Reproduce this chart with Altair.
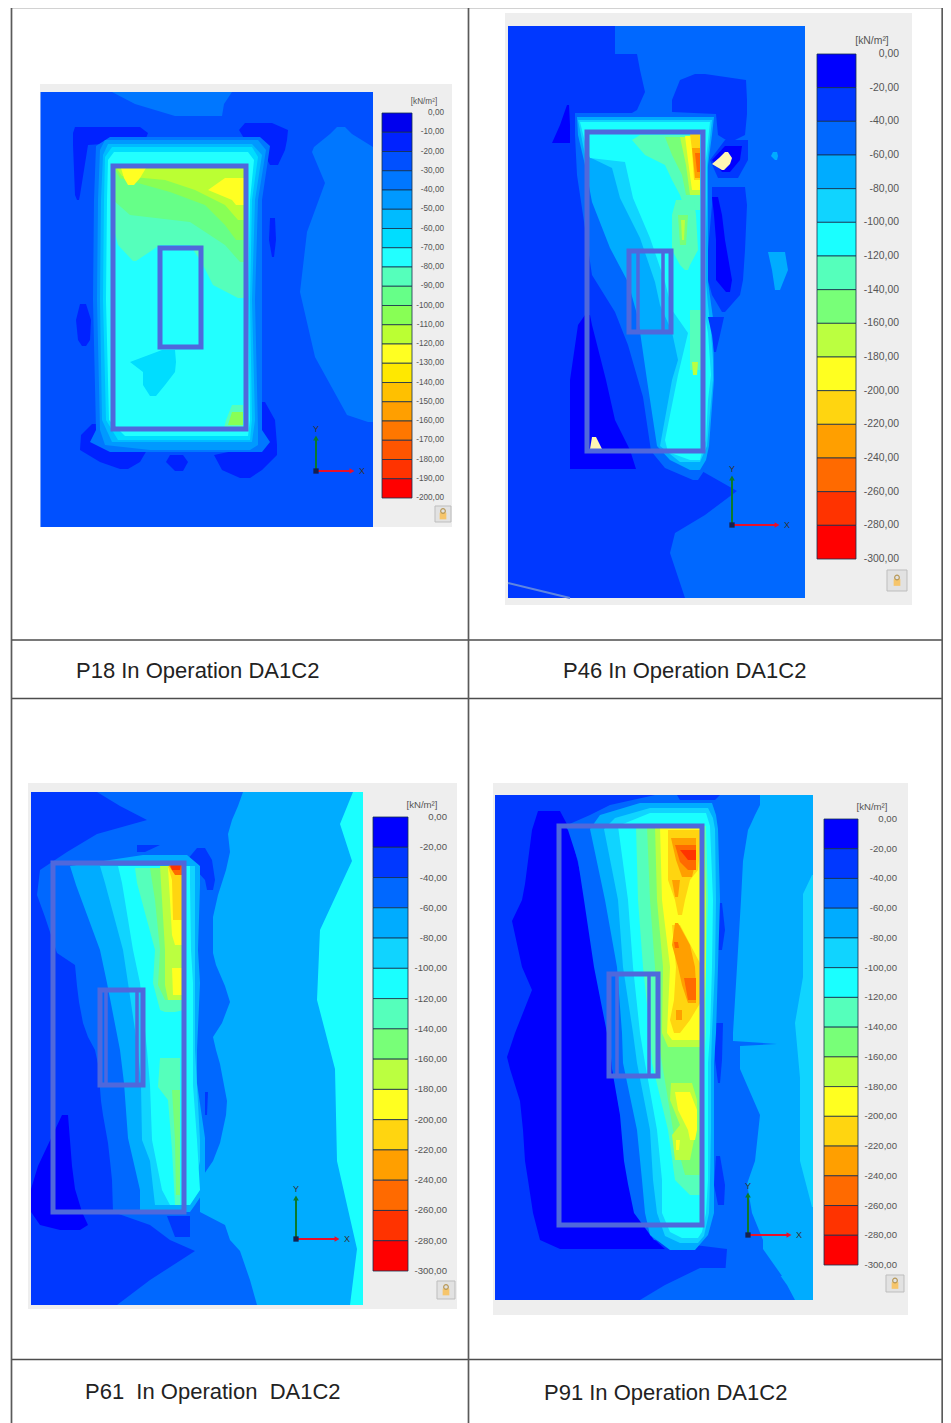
import altair as alt
import pandas as pd

alt.data_transformers.disable_max_rows()

# palettes of the two legend scales
COLORS_20 = ['#0000ee','#0022ff','#0050ff','#0077ff','#0099ff','#00bbff','#00ddff','#22ffff','#55ffbb','#66ff88',
             '#88ff55','#bbff33','#ffff22','#ffe800','#ffc000','#ff9f00','#ff7700','#ff5500','#ff3300','#ff0000']
COLORS_15 = ['#0000ff','#0038ff','#0068ff','#00acff','#10d4ff','#1affff','#55ffbb','#78ff78','#bbff40','#ffff20',
             '#ffd510','#ff9f00','#ff6a00','#ff3300','#ff0000']
TICKS_20 = ['0,00','-10,00','-20,00','-30,00','-40,00','-50,00','-60,00','-70,00','-80,00','-90,00','-100,00',
            '-110,00','-120,00','-130,00','-140,00','-150,00','-160,00','-170,00','-180,00','-190,00','-200,00']
TICKS_15 = ['0,00','-20,00','-40,00','-60,00','-80,00','-100,00','-120,00','-140,00','-160,00','-180,00','-200,00',
            '-220,00','-240,00','-260,00','-280,00','-300,00']
UNIT = '[kN/m²]'
CAPTIONS = ['P18 In Operation DA1C2', 'P46 In Operation DA1C2',
            'P61\u00a0\u00a0In Operation\u00a0\u00a0DA1C2', 'P91 In Operation DA1C2']

# contour bands: (colour level, [(y, x left, x right), ...]), painted in order
P18 = [
 (2,[(92,40.5,373),(527,40.5,373)]),
 (3,[(92,112,232),(104,135,224),(116,175,222)]),
 (3,[(127,337,345),(134,330,352),(147,314,373),(152,312,373),(183,325,373),(232,307,373),(292,300,373),(357,315,373),(415,347,373),(422,368,373)]),
 (1,[(127,75,140),(133,73,148),(141,73,145),(145,73,88),(170,74,84),(195,75,80),(200,77,79)]),
 (1,[(123,245,272),(130,239,288),(140,245,287),(150,262,285),(165,270,278)]),
 (1,[(424,92,97),(435,81,125),(450,80,147),(462,100,140),(469,120,128)]),
 (1,[(402,262,265),(420,258,275),(445,262,277),(455,214,277),(470,222,262),(478,240,250)]),
 (1,[(455,170,183),(462,166,188),(471,175,183)]),
 (1,[(304,80,86),(320,76,91),(340,78,90),(346,82,86)]),
 (1,[(218,270,275),(240,269,276),(257,272,274)]),
 (3,[(137,110,260),(146,96,270),(200,94,262),(300,93,262),(430,96,262),(442,90,270),(452,110,262)]),
 (4,[(140,105,258),(150,100,266),(200,98,258),(300,97,255),(430,100,258),(445,105,258),(450,150,250)]),
 (5,[(144,108,252),(155,103,262),(200,101,255),(300,100,252),(420,102,255),(442,112,252)]),
 (6,[(147,112,252),(157,105,258),(200,104,252),(300,103,250),(420,106,252),(440,118,250)]),
 (7,[(152,114,248),(160,108,254),(200,107,250),(300,106,248),(420,109,250),(436,125,248)]),
 (8,[(166,113,246),(225,113,246),(245,118,246)]),
 (8,[(245,118,160),(261,133,136)]),
 (8,[(245,190,246),(263,202,246),(285,213,246),(298,238,246)]),
 (9,[(166,113,246),(200,113,246),(215,130,246),(222,190,246),(245,225,246),(262,240,246)]),
 (10,[(166,113,246),(178,120,246),(192,170,246),(205,205,246),(225,225,246),(240,236,246)]),
 (11,[(166,115,246),(176,122,246),(180,165,246),(190,195,246),(205,225,246),(220,238,246)]),
 (12,[(168,121,146),(178,124,140),(185,128,134)]),
 (12,[(178,225,246),(190,208,246),(200,232,246),(205,236,246)]),
 (8,[(405,232,243),(420,226,243),(428,224,243)]),
 (10,[(412,232,243),(425,228,243)]),
 (6,[(350,162,175),(362,130,176),(372,143,175),(385,143,165),(396,150,156)]),
]
P46 = [
 (1,[(26,508,805),(598,508,805)]),
 (2,[(26,615,805),(130,615,805),(135,700,805),(470,700,805),(491,737,805),(515,705,805),(533,675,805),(553,670,805),(598,685,805)]),
 (1,[(54,614,637),(70,614,640),(92,614,645),(110,614,637),(120,614,620)]),
 (0,[(105,567,569),(125,560,570),(143,552,570)]),
 (2,[(113,575,716),(135,575,714),(175,577,710),(275,592,710),(312,615,712),(345,628,715),(397,643,712),(451,651,710),(468,665,706),(480,693,698)]),
 (3,[(117,577,714),(135,578,712),(165,585,708),(202,592,708),(248,610,708),(282,628,708),(318,638,713),(380,647,714),(446,657,709),(460,670,706),(470,690,700)]),
 (4,[(120,578,712),(155,585,708),(168,612,707),(198,620,707),(238,640,706),(282,655,706),(305,660,708),(332,672,711),(360,678,713),(380,672,713),(446,660,707),(462,680,700)]),
 (5,[(122,580,710),(150,587,707),(158,590,706),(162,625,705),(198,633,704),(238,650,704),(282,665,704),(310,672,704),(333,688,708),(375,678,711),(400,673,708),(440,665,706),(452,668,702),(460,690,700)]),
 (6,[(135,640,700),(140,632,700),(155,645,700),(165,665,700),(180,672,700),(195,680,700),(210,685,700)]),
 (6,[(200,676,694),(215,672,696),(250,672,698),(265,680,690),(270,685,688)]),
 (6,[(310,690,702),(370,690,702)]),
 (7,[(137,665,700),(155,672,700),(175,682,700),(195,686,700)]),
 (7,[(215,678,688),(245,680,686)]),
 (8,[(137,680,700),(165,686,700),(195,690,700)]),
 (8,[(220,681,685),(240,682,684)]),
 (8,[(362,692,698),(375,693,697)]),
 (9,[(136,685,700),(160,688,700),(190,692,700)]),
 (10,[(134,690,700),(150,692,700),(180,694,700)]),
 (11,[(148,692,700),(178,695,700)]),
 (12,[(153,695,700),(172,697,700)]),
 (1,[(74,695,705),(80,680,746),(100,672,747),(112,672,747),(114,716,747),(135,718,745),(140,726,735)]),
 (1,[(140,725,748),(160,710,748),(178,718,738)]),
 (0,[(146,725,742),(160,712,740),(172,722,730)]),
 (1,[(187,712,745),(205,712,747),(250,708,745),(280,708,743),(295,712,740),(312,722,725)]),
 (0,[(197,712,718),(215,714,722),(240,716,725),(280,716,732),(292,726,730)]),
 (1,[(317,708,724),(335,712,720),(352,714,716)]),
 (3,[(252,768,785),(270,772,788),(290,775,780)]),
 (3,[(152,773,777),(156,771,778),(160,775,777)]),
 (0,[(315,585,590),(325,578,592),(380,570,606),(420,570,615),(450,570,630),(469,570,636)]),
]
P61 = [
 (1,[(792,31,363),(1305,31,363)]),
 (3,[(792,190,363),(1200,190,363),(1225,200,363),(1251,225,363),(1305,240,363)]),
 (5,[(792,353,363),(824,340,363),(861,352,363),(930,320,363),(1000,317,363),(1069,335,363),(1161,337,363),(1249,357,363),(1305,350,363)]),
 (2,[(792,97,243),(806,120,238),(820,147,232),(834,97,228),(852,67,230),(870,40,226),(895,37,218),(917,45,213),(953,57,213),(965,75,216),(986,77,225),(1002,79,230),(1023,83,222),(1037,88,213),(1050,95,216),(1064,98,220),(1101,101,227),(1115,103,226),(1143,108,220),(1161,110,213),(1180,112,200),(1212,113,200),(1225,150,225),(1240,170,230),(1251,195,240),(1280,150,250),(1305,117,257)]),
 (1,[(845,137,160),(852,137,145)]),
 (1,[(848,197,205),(860,187,212),(880,205,215),(890,207,213)]),
 (1,[(1092,205,208),(1115,205,207)]),
 (1,[(1216,167,190),(1237,175,190)]),
 (3,[(855,143,187),(866,70,200),(885,76,200),(950,100,198),(983,107,200),(1050,120,197),(1083,124,197),(1138,128,205),(1190,140,205),(1205,140,195),(1212,140,190)]),
 (4,[(866,100,195),(883,105,195),(950,123,195),(983,128,195),(1050,138,195),(1085,141,197),(1140,142,200),(1161,150,200),(1205,155,190)]),
 (5,[(866,118,190),(883,122,190),(950,133,191),(983,140,193),(1050,147,193),(1085,150,193),(1140,152,197),(1190,162,200),(1205,170,190)]),
 (6,[(868,135,184),(883,137,184),(950,155,184),(983,153,184),(1010,160,184),(1012,165,175)]),
 (6,[(1058,160,180),(1087,158,180),(1100,168,180),(1150,172,180),(1205,175,180)]),
 (7,[(868,150,184),(900,155,184),(950,160,184),(985,158,184),(1000,165,184)]),
 (7,[(1090,172,180),(1140,175,180),(1195,176,180)]),
 (8,[(866,160,184),(950,165,184),(985,165,184),(1000,168,184)]),
 (9,[(868,168,184),(900,170,184),(935,172,184),(945,175,184)]),
 (9,[(968,172,184),(995,173,184)]),
 (10,[(866,168,182),(880,172,182),(920,173,182)]),
 (11,[(864,170,182),(872,174,182)]),
 (12,[(864,168,182),(875,175,182)]),
 (13,[(864,170,181),(870,172,180)]),
 (0,[(1115,62,68),(1166,38,72),(1189,31,75),(1212,31,82),(1225,40,88),(1230,60,80)]),
]
P91 = [
 (1,[(795,495,813),(1300,495,813)]),
 (3,[(795,700,813),(1225,700,813),(1240,750,813),(1300,790,813)]),
 (4,[(875,812,813),(894,803,813),(977,803,813),(1023,795,813),(1078,800,813),(1161,800,813),(1207,812,813)]),
 (0,[(811,538,560),(830,532,570),(884,525,583),(900,522,585),(921,512,588),(967,522,595),(990,532,599),(1033,515,608),(1057,507,611),(1069,510,613),(1101,520,618),(1130,523,623),(1161,525,625),(1180,528,628),(1213,533,635),(1240,540,655),(1249,560,665)]),
 (2,[(795,655,760),(805,610,760),(815,590,755),(826,565,750),(830,568,748),(861,578,743),(900,584,741),(967,594,737),(1033,607,733),(1041,608,733),(1044,609,777),(1046,610,740),(1069,612,740),(1115,620,760),(1161,624,755),(1184,628,747),(1213,634,752),(1240,654,763),(1249,727,763),(1276,725,782)]),
 (2,[(1268,700,775),(1285,665,787),(1300,640,795)]),
 (1,[(795,677,720),(800,680,715)]),
 (1,[(903,715,722),(930,715,725),(950,718,722)]),
 (1,[(1023,715,723),(1060,715,722),(1083,718,720)]),
 (1,[(1156,716,720),(1185,714,725),(1205,718,724)]),
 (3,[(803,640,712),(815,600,716),(829,590,718),(900,605,720),(967,617,718),(1033,622,716),(1063,623,714),(1130,637,714),(1180,642,714),(1213,645,714),(1235,650,708),(1250,670,695)]),
 (4,[(808,650,708),(818,615,713),(829,604,715),(900,618,716),(967,623,715),(1033,633,712),(1063,637,711),(1130,650,711),(1180,653,710),(1213,657,709),(1236,665,704),(1243,680,698)]),
 (5,[(813,650,706),(826,618,710),(900,628,713),(967,633,712),(1033,640,710),(1063,645,708),(1130,657,708),(1180,662,708),(1213,662,706),(1232,670,702),(1238,682,698)]),
 (6,[(826,636,706),(900,638,708),(967,643,706),(1033,650,706),(1063,652,704),(1130,668,704),(1180,675,704),(1195,690,702)]),
 (7,[(826,647,704),(900,650,706),(967,655,704),(1033,658,704),(1063,662,702),(1130,673,702),(1175,685,700)]),
 (8,[(826,655,704),(900,657,706),(967,663,706),(1033,662,704),(1047,668,702)]),
 (8,[(1083,671,692),(1100,670,697),(1125,680,697),(1135,672,695),(1160,675,690)]),
 (9,[(826,660,704),(900,662,703),(967,670,705),(1033,667,703),(1040,672,700)]),
 (9,[(1092,675,690),(1110,678,697),(1130,688,697),(1140,690,695)]),
 (9,[(1140,676,680),(1150,676,679)]),
 (10,[(830,668,702),(870,668,698),(880,668,690),(900,675,685),(915,678,682)]),
 (10,[(925,672,680),(967,676,702),(1000,674,702),(1020,670,690),(1033,674,680)]),
 (11,[(838,671,696),(860,676,696),(877,682,692)]),
 (11,[(880,672,680),(897,675,678)]),
 (11,[(923,675,678),(945,672,690),(967,678,695),(985,682,696),(1003,688,696)]),
 (11,[(1010,676,682),(1020,676,682)]),
 (12,[(845,675,696),(862,680,696),(870,688,696)]),
 (12,[(942,674,678),(948,675,679)]),
 (12,[(978,684,696),(1000,688,696)]),
 (13,[(850,680,696),(860,688,696)]),
]
# pale spots outside the scale (panel P46)
SPOTS = [[(152,725,728),(158,719,732),(164,712,730),(170,722,724)], [(437,592,596),(449,590,602)]]

PANELS = [
 dict(bands=P18, colors=COLORS_20, ticks=TICKS_20, grey=(40,452,84,527), bar=(382,412,113,498), lab=444, fs=8.2, unit=(424,102),
      lock=(435,451,506,522), outer=(113,246,166,429), inner=(160,201,248,347), ribs=[], triad=(316,471,438,352), cap=(76,671)),
 dict(bands=P46, colors=COLORS_15, ticks=TICKS_15, grey=(505,912,13,605), bar=(817,856,54,559), lab=899, fs=10.4, unit=(872,41),
      lock=(887,907,570,591), outer=(587,703,132,451), inner=(629,671,251,332), ribs=[638,663], triad=(732,525,478,777), cap=(563,671)),
 dict(bands=P61, colors=COLORS_15, ticks=TICKS_15, grey=(28,457,783,1309), bar=(373,408,817,1271), lab=447, fs=9.6, unit=(422,805),
      lock=(437,455,1281,1299), outer=(53,184,863,1212), inner=(100,143,990,1085), ribs=[106,137], triad=(296,1239,1198,337), cap=(85,1392)),
 dict(bands=P91, colors=COLORS_15, ticks=TICKS_15, grey=(493,908,783,1315), bar=(824,858,819,1265), lab=897, fs=9.6, unit=(872,807),
      lock=(886,904,1275,1292), outer=(559,702,826,1225), inner=(609,658,974,1076), ribs=[617,649], triad=(748,1235,1195,789), cap=(544,1392.5)),
]

# image-pixel scales; the page keeps 935 px of width for the chart
X = alt.Scale(domain=[8, 943], range=[0, 935], nice=False, zero=False)
Y = alt.Scale(domain=[8, 1423], range=[0, 1415], nice=False, zero=False)
def ex(f='x'): return alt.X(f'{f}:Q', scale=X, axis=None)
def ey(f='y'): return alt.Y(f'{f}:Q', scale=Y, axis=None)

band_rows, grey_rows, cell_rows, tick_rows, unit_rows, lock_rows, box_rows, rib_rows, cap_rows, tri_rows = [], [], [], [], [], [], [], [], [], []
bid = 0
for p, cap in zip(PANELS, CAPTIONS):
    g = p['grey']
    grey_rows.append(dict(x=g[0], x2=g[1], y=g[2], y2=g[3]))
    for lvl, rows in p['bands']:
        bid += 1
        for y, a, b in rows:
            band_rows.append(dict(band=bid, y=y, x=a, x2=b, color=p['colors'][lvl]))
    x0, x1, y0, y1 = p['bar']
    n = len(p['colors'])
    for i, c in enumerate(p['colors']):
        cell_rows.append(dict(x=x0, x2=x1, y=y0 + (y1 - y0) * i / n, y2=y0 + (y1 - y0) * (i + 1) / n, color=c))
    for i, t in enumerate(p['ticks']):
        tick_rows.append(dict(x=p['lab'], y=y0 + (y1 - y0) * i / n, text=t, size=p['fs']))
    unit_rows.append(dict(x=p['unit'][0], y=p['unit'][1], text=UNIT, size=p['fs']))
    lock_rows.append(dict(zip(('x', 'x2', 'y', 'y2'), p['lock'])))
    box_rows.append(dict(zip(('x', 'x2', 'y', 'y2'), p['outer'])))
    box_rows.append(dict(zip(('x', 'x2', 'y', 'y2'), p['inner'])))
    for r in p['ribs']:
        rib_rows.append(dict(x=r, y=p['inner'][2], y2=p['inner'][3]))
    tri_rows.append(p['triad'])
    cap_rows.append(dict(x=p['cap'][0], y=p['cap'][1], text=cap))

spot_rows = [dict(band=i, y=y, x=a, x2=b) for i, s in enumerate(SPOTS) for y, a, b in s]

grey = alt.Chart(pd.DataFrame(grey_rows)).mark_rect(color='#eeeeee').encode(x=ex(), x2='x2:Q', y=ey(), y2='y2:Q')
bands = alt.Chart(pd.DataFrame(band_rows)).mark_area(orient='horizontal', interpolate='linear').encode(
    y=ey(), x=ex(), x2='x2:Q', detail='band:N', color=alt.Color('color:N', scale=None))
spots = alt.Chart(pd.DataFrame(spot_rows)).mark_area(orient='horizontal', color='#fff6b4').encode(
    y=ey(), x=ex(), x2='x2:Q', detail='band:N')
cells = alt.Chart(pd.DataFrame(cell_rows)).mark_rect(stroke='#15304f', strokeWidth=0.8).encode(
    x=ex(), x2='x2:Q', y=ey(), y2='y2:Q', color=alt.Color('color:N', scale=None))
ticks = alt.Chart(pd.DataFrame(tick_rows)).mark_text(align='right', baseline='middle', font='Liberation Sans', color='#555555').encode(
    x=ex(), y=ey(), text='text:N', size=alt.Size('size:Q', scale=None))
units = alt.Chart(pd.DataFrame(unit_rows)).mark_text(align='center', baseline='middle', font='Liberation Sans', color='#555555').encode(
    x=ex(), y=ey(), text='text:N', size=alt.Size('size:Q', scale=None))
locks = alt.Chart(pd.DataFrame(lock_rows)).mark_rect(fill='#e2e2e2', stroke='#bdbdbd', strokeWidth=1).encode(
    x=ex(), x2='x2:Q', y=ey(), y2='y2:Q')
lock_body = alt.Chart(pd.DataFrame(lock_rows)).transform_calculate(
    cx='(datum.x+datum.x2)/2', cy='(datum.y+datum.y2)/2+2').mark_square(size=45, color='#f6c56b', opacity=1).encode(
    x=ex('cx'), y=ey('cy'))
lock_ring = alt.Chart(pd.DataFrame(lock_rows)).transform_calculate(
    cx='(datum.x+datum.x2)/2', cy='(datum.y+datum.y2)/2-3').mark_point(shape='circle', size=22, color='#b89a5a', filled=False, opacity=1, strokeWidth=1.2).encode(
    x=ex('cx'), y=ey('cy'))
boxes = alt.Chart(pd.DataFrame(box_rows)).mark_rect(filled=False, stroke='#4f68dc', strokeWidth=5).encode(
    x=ex(), x2='x2:Q', y=ey(), y2='y2:Q')
ribs = alt.Chart(pd.DataFrame(rib_rows)).mark_rule(color='#4f68dc', strokeWidth=3.5).encode(x=ex(), y=ey(), y2='y2:Q')

tri = pd.DataFrame(tri_rows, columns=['ox', 'oy', 'ty', 'rx'])
t_y = alt.Chart(tri).mark_rule(color='#0b7a2c', strokeWidth=2).encode(x=ex('ox'), y=ey('oy'), y2='ty:Q')
t_x = alt.Chart(tri).mark_rule(color='#e8102a', strokeWidth=2).encode(y=ey('oy'), x=ex('ox'), x2='rx:Q')
t_ya = alt.Chart(tri).mark_point(shape='triangle-up', filled=True, size=32, color='#0b7a2c', opacity=1).encode(x=ex('ox'), y=ey('ty'))
t_xa = alt.Chart(tri).mark_point(shape='triangle-right', filled=True, size=32, color='#e8102a', opacity=1).encode(x=ex('rx'), y=ey('oy'))
t_o = alt.Chart(tri).mark_square(size=28, color='#15204f', opacity=1).encode(x=ex('ox'), y=ey('oy'))
t_yl = alt.Chart(tri).transform_calculate(ly='datum.ty-9', t="'Y'").mark_text(font='Liberation Sans', fontSize=9, color='#333333', baseline='middle').encode(
    x=ex('ox'), y=ey('ly'), text='t:N')
t_xl = alt.Chart(tri).transform_calculate(lx='datum.rx+10', t="'X'").mark_text(font='Liberation Sans', fontSize=9, color='#333333', baseline='middle').encode(
    x=ex('lx'), y=ey('oy'), text='t:N')

caps = alt.Chart(pd.DataFrame(cap_rows)).mark_text(align='left', baseline='middle', font='Liberation Sans', fontSize=22, color='#222222').encode(
    x=ex(), y=ey(), text='text:N')

# table rules
H_RULES = pd.DataFrame({'y': [7.5, 640, 698.5, 1359.5], 'x': [11, 11, 11, 11], 'x2': [942.5, 942.5, 942.5, 942.5]})
V_RULES = pd.DataFrame({'x': [11.5, 468.5, 942.2], 'y': [7.5, 7.5, 7.5], 'y2': [1423, 1423, 1423]})
h = alt.Chart(H_RULES).mark_rule(color='#4d4d4d', strokeWidth=1.5).encode(y=ey(), x=ex(), x2='x2:Q')
v = alt.Chart(V_RULES).mark_rule(color='#5a5a5a', strokeWidth=1.7).encode(x=ex(), y=ey(), y2='y2:Q')
faint = alt.Chart(pd.DataFrame({'px': [508, 570], 'py': [583, 598]})).mark_line(color='#5f86e0', strokeWidth=2).encode(x=ex('px'), y=ey('py'))

chart = alt.layer(
    grey, bands, spots, faint, boxes, ribs, cells, ticks, units, locks, lock_body, lock_ring,
    t_y, t_x, t_ya, t_xa, t_o, t_yl, t_xl, caps, h, v).properties(
    width=935, height=1415, padding=0, autosize=alt.AutoSizeParams(type='none'), background='white'
).configure_view(stroke=None)

chart.save("out.html", embed_options={"renderer": "svg", "actions": False})
